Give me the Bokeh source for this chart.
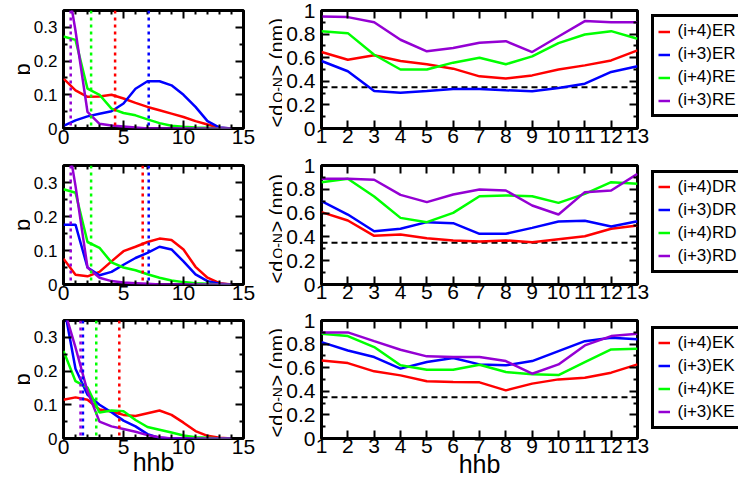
import math
from bokeh.plotting import figure
from bokeh.models import (Range1d, FixedTicker, NumeralTickFormatter, LinearAxis,
                          Span, Label, Legend, LegendItem)
from bokeh.layouts import row, column
from bokeh.embed import file_html
from bokeh.resources import INLINE

FONT = "Liberation Sans"
RED, BLUE, GREEN, PURPLE = "#ff0000", "#0000ff", "#00ff00", "#9400d3"
COLORS = [RED, BLUE, GREEN, PURPLE]

# ---------------- data: distributions p(hhb) ----------------
hhb_p = list(range(15))
p_ER_i4 = [0.148, 0.113, 0.094, 0.095, 0.100, 0.089, 0.076, 0.064, 0.054, 0.044, 0.034, 0.022, 0.012, 0.002, 0.0]
p_ER_i3 = [0.008, 0.024, 0.036, 0.044, 0.051, 0.074, 0.118, 0.140, 0.140, 0.128, 0.100, 0.064, 0.022, 0.003, 0.0]
p_RE_i4 = [0.273, 0.263, 0.118, 0.100, 0.059, 0.046, 0.039, 0.027, 0.016, 0.008, 0.005, 0.003, 0.002, 0.0, 0.0]
p_RE_i3 = [0.50, 0.29, 0.049, 0.014, 0.009, 0.006, 0.003, 0.0, 0.0, 0.0, 0.0, 0.0, 0.0, 0.0, 0.0]

p_DR_i4 = [0.076, 0.029, 0.024, 0.037, 0.068, 0.098, 0.111, 0.125, 0.135, 0.131, 0.103, 0.052, 0.020, 0.004, 0.0]
p_DR_i3 = [0.176, 0.176, 0.050, 0.027, 0.037, 0.058, 0.078, 0.093, 0.111, 0.103, 0.068, 0.030, 0.010, 0.002, 0.0]
p_RD_i4 = [0.280, 0.270, 0.125, 0.108, 0.065, 0.050, 0.042, 0.030, 0.020, 0.012, 0.007, 0.004, 0.002, 0.0, 0.0]
p_RD_i3 = [0.50, 0.29, 0.050, 0.020, 0.010, 0.006, 0.004, 0.002, 0.0, 0.0, 0.0, 0.0, 0.0, 0.0, 0.0]

p_EK_i4 = [0.115, 0.122, 0.115, 0.086, 0.080, 0.070, 0.067, 0.075, 0.083, 0.070, 0.047, 0.022, 0.008, 0.002, 0.0]
p_EK_i3 = [0.40, 0.207, 0.130, 0.100, 0.078, 0.053, 0.036, 0.013, 0.002, 0.0, 0.0, 0.0, 0.0, 0.0, 0.0]
p_KE_i4 = [0.260, 0.170, 0.151, 0.077, 0.083, 0.081, 0.055, 0.034, 0.026, 0.018, 0.009, 0.004, 0.002, 0.0, 0.0]
p_KE_i3 = [0.39, 0.27, 0.140, 0.050, 0.036, 0.028, 0.020, 0.010, 0.004, 0.0, 0.0, 0.0, 0.0, 0.0, 0.0]

# mean hhb (vertical dotted lines): order (i+4)XY, (i+3)XY, (i+4)YX, (i+3)YX
mean_ER_RE = [4.3, 7.1, 2.3, 0.6]
mean_DR_RD = [6.6, 7.1, 2.3, 0.6]
mean_EK_KE = [4.65, 1.62, 2.73, 1.42]

# ---------------- data: <d O-N>(hhb) ----------------
hhb_d = list(range(1, 14))
d_ER_i4 = [0.648, 0.583, 0.620, 0.572, 0.544, 0.507, 0.442, 0.423, 0.450, 0.500, 0.535, 0.577, 0.662]
d_ER_i3 = [0.572, 0.485, 0.318, 0.304, 0.318, 0.335, 0.335, 0.324, 0.315, 0.344, 0.380, 0.479, 0.527]
d_RE_i4 = [0.825, 0.808, 0.625, 0.500, 0.500, 0.558, 0.600, 0.544, 0.611, 0.724, 0.797, 0.825, 0.760]
d_RE_i3 = [0.949, 0.944, 0.900, 0.752, 0.654, 0.682, 0.727, 0.740, 0.648, 0.780, 0.910, 0.900, 0.900]

d_DR_i4 = [0.608, 0.538, 0.409, 0.420, 0.389, 0.370, 0.361, 0.370, 0.356, 0.381, 0.406, 0.468, 0.496]
d_DR_i3 = [0.700, 0.588, 0.448, 0.468, 0.524, 0.515, 0.426, 0.426, 0.476, 0.530, 0.535, 0.487, 0.532]
d_RD_i4 = [0.860, 0.888, 0.740, 0.560, 0.524, 0.602, 0.742, 0.748, 0.742, 0.686, 0.762, 0.860, 0.846]
d_RD_i3 = [0.888, 0.888, 0.880, 0.753, 0.692, 0.756, 0.798, 0.790, 0.664, 0.588, 0.776, 0.790, 0.930]

d_EK_i4 = [0.662, 0.639, 0.569, 0.535, 0.485, 0.479, 0.476, 0.408, 0.465, 0.501, 0.515, 0.558, 0.628]
d_EK_i3 = [0.817, 0.746, 0.690, 0.592, 0.648, 0.682, 0.628, 0.620, 0.656, 0.741, 0.825, 0.854, 0.842]
d_KE_i4 = [0.887, 0.868, 0.775, 0.620, 0.583, 0.583, 0.625, 0.563, 0.544, 0.538, 0.648, 0.755, 0.760]
d_KE_i3 = [0.899, 0.899, 0.825, 0.752, 0.696, 0.690, 0.690, 0.656, 0.549, 0.628, 0.789, 0.868, 0.887]

labels_ER = ["(i+4)ER", "(i+3)ER", "(i+4)RE", "(i+3)RE"]
labels_DR = ["(i+4)DR", "(i+3)DR", "(i+4)RD", "(i+3)RD"]
labels_EK = ["(i+4)EK", "(i+3)EK", "(i+4)KE", "(i+3)KE"]

d_threshold = 0.35

p_xticks = [0, 5, 10, 15]
p_xminor = [1, 2, 3, 4, 6, 7, 8, 9, 11, 12, 13, 14]
p_yticks = [0, 0.1, 0.2, 0.3]
p_yminor = [0.05, 0.15, 0.25]
d_xticks = list(range(1, 14))
d_yticks = [0, 0.2, 0.4, 0.6, 0.8, 1.0]
d_yminor = [0.1, 0.3, 0.5, 0.7, 0.9]


def setup_axis(ax, ticks, minor, fs, standoff, show):
    ax.ticker = FixedTicker(ticks=ticks, minor_ticks=minor)
    ax.formatter = NumeralTickFormatter(format="0.[0]")
    ax.axis_line_color = None
    ax.major_tick_in = 8
    ax.major_tick_out = 0
    ax.minor_tick_in = 4
    ax.minor_tick_out = 0
    ax.major_tick_line_width = 2
    ax.minor_tick_line_width = 2
    ax.major_tick_line_color = "black"
    ax.minor_tick_line_color = "black"
    if show:
        ax.major_label_text_font = FONT
        ax.major_label_text_font_size = f"{fs}px"
        ax.major_label_text_color = "black"
        ax.major_label_standoff = standoff
    else:
        ax.major_label_text_font_size = "1px"
        ax.major_label_text_color = None
        ax.major_label_text_alpha = 0
        ax.major_label_standoff = 0


def base_fig(w, h, bl, br, bt, bb, xr, yr):
    p = figure(width=w, height=h, x_range=Range1d(*xr), y_range=Range1d(*yr),
               output_backend="svg", toolbar_location=None,
               min_border_left=bl, min_border_right=br,
               min_border_top=bt, min_border_bottom=bb)
    p.grid.visible = False
    p.outline_line_color = "black"
    p.outline_line_width = 3
    p.background_fill_color = "white"
    p.border_fill_color = "white"
    p.add_layout(LinearAxis(), "above")
    p.add_layout(LinearAxis(), "right")
    return p


def blank_fig(w, h):
    f = figure(width=w, height=h, x_range=Range1d(0, w), y_range=Range1d(0, h),
               x_axis_type=None, y_axis_type=None, output_backend="svg",
               toolbar_location=None, min_border_left=0, min_border_right=0,
               min_border_top=0, min_border_bottom=0)
    f.grid.visible = False
    f.outline_line_color = None
    f.background_fill_color = "white"
    f.border_fill_color = "white"
    return f


def set_xlabel(ax, std):
    ax.axis_label = "hhb"
    ax.axis_label_text_font = FONT
    ax.axis_label_text_font_size = "25px"
    ax.axis_label_text_font_style = "normal"
    ax.axis_label_text_color = "black"
    ax.axis_label_standoff = std


# layout geometry (pixels): canvas height, top border, bottom border
ROWS = [(153, 10, 25), (156, 12, 25), (175, 11, 46)]
W_A, W_C, W_E = 30, 26, 89
B_L = dict(w=226, bl=30, br=13)
B_R = dict(w=367, bl=39, br=12)
LEG_Y = [36, 36.5, 55.5]


def p_panel(h, bt, bb, series, means, xlabel):
    p = base_fig(B_L["w"], h, B_L["bl"], B_L["br"], bt, bb, (0, 15), (0, 0.35))
    setup_axis(p.below[0], p_xticks, p_xminor, 21, 1, True)
    setup_axis(p.above[0], p_xticks, p_xminor, 0, 0, False)
    setup_axis(p.left[0], p_yticks, p_yminor, 17, 6, True)
    setup_axis(p.right[0], p_yticks, p_yminor, 0, 0, False)
    for m, c in zip(means, COLORS):
        p.add_layout(Span(location=m, dimension="height", line_color=c,
                          line_width=2.5, line_dash="3 4"))
    for ys, c in zip(series, COLORS):
        p.line(hhb_p, ys, line_color=c, line_width=2.5)
    if xlabel:
        set_xlabel(p.below[0], -9)
    return p


def p_label(h, bt, bb):
    fh = h - bt - bb
    f = blank_fig(W_A, h)
    f.add_layout(Label(x=22, y=bb + fh / 2, text="p", angle=math.pi / 2,
                       text_align="center", text_baseline="alphabetic",
                       text_font=FONT, text_font_size="22px", text_color="black"))
    return f


def d_panel(h, bt, bb, series, xlabel):
    p = base_fig(B_R["w"], h, B_R["bl"], B_R["br"], bt, bb, (1, 13), (0, 1))
    setup_axis(p.below[0], d_xticks, [], 21, 0, True)
    setup_axis(p.above[0], d_xticks, [], 0, 0, False)
    setup_axis(p.left[0], d_yticks, d_yminor, 21, 6, True)
    setup_axis(p.right[0], d_yticks, d_yminor, 0, 0, False)
    p.add_layout(Span(location=d_threshold, dimension="width", line_color="black",
                      line_width=2, line_dash="6 4", level="underlay"))
    for ys, c in zip(series, COLORS):
        p.line(hhb_d, ys, line_color=c, line_width=2.5)
    if xlabel:
        set_xlabel(p.below[0], -6)
    return p


def d_label(h, bt, bb):
    f = blank_fig(W_C, h)
    common = dict(angle=math.pi / 2, text_align="left", text_baseline="alphabetic",
                  text_font=FONT, text_color="black")
    f.add_layout(Label(x=20, y=bb + 1, text="<d", text_font_size="20px", **common))
    f.add_layout(Label(x=21, y=bb + 25.8, text="O-N", text_font_size="14px", **common))
    f.add_layout(Label(x=20, y=bb + 52, text="> (nm)", text_font_size="20px", **common))
    return f


def legend_fig(h, labels, leg_y):
    f = blank_fig(W_E, h)
    items = []
    for lab, c in zip(labels, COLORS):
        # placeholder renderer (one NaN point draws nothing) that only styles the legend key
        r = f.line(x=[math.nan], y=[math.nan], line_color=c, line_width=2.5)
        items.append(LegendItem(label=lab, renderers=[r]))
    leg = Legend(items=items, location=(1.5, leg_y))
    leg.border_line_color = "black"
    leg.border_line_alpha = 1.0
    leg.border_line_width = 3
    leg.background_fill_color = "white"
    leg.background_fill_alpha = 1.0
    leg.label_text_font = FONT
    leg.label_text_font_size = "17px"
    leg.label_text_color = "black"
    leg.glyph_width = 12
    leg.glyph_height = 19
    leg.label_height = 19
    leg.label_standoff = 8
    leg.spacing = 3
    leg.padding = 4
    leg.margin = 0
    f.add_layout(leg, "center")
    return f


L1 = p_panel(*ROWS[0], [p_ER_i4, p_ER_i3, p_RE_i4, p_RE_i3], mean_ER_RE, False)
L2 = p_panel(*ROWS[1], [p_DR_i4, p_DR_i3, p_RD_i4, p_RD_i3], mean_DR_RD, False)
L3 = p_panel(*ROWS[2], [p_EK_i4, p_EK_i3, p_KE_i4, p_KE_i3], mean_EK_KE, True)

R1 = d_panel(*ROWS[0], [d_ER_i4, d_ER_i3, d_RE_i4, d_RE_i3], False)
R2 = d_panel(*ROWS[1], [d_DR_i4, d_DR_i3, d_RD_i4, d_RD_i3], False)
R3 = d_panel(*ROWS[2], [d_EK_i4, d_EK_i3, d_KE_i4, d_KE_i3], True)

colA = column(*[p_label(*r) for r in ROWS])
colB = column(L1, L2, L3)
colC = column(*[d_label(*r) for r in ROWS])
colD = column(R1, R2, R3)
colE = column(*[legend_fig(r[0], labs, ly) for r, labs, ly in
                 zip(ROWS, [labels_ER, labels_DR, labels_EK], LEG_Y)])

layout = row(colA, colB, colC, colD, colE)

open("out.html", "w").write(file_html(layout, INLINE))
